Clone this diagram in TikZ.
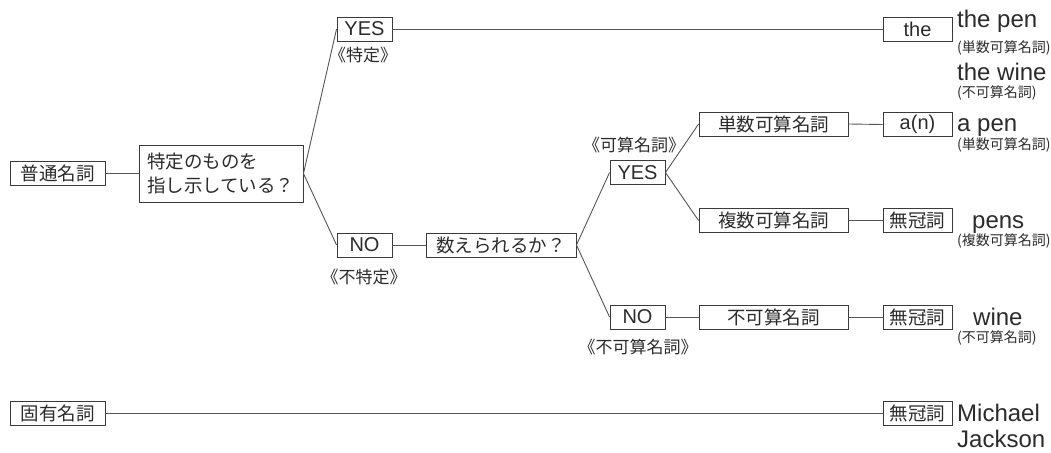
\documentclass[tikz,border=0pt]{standalone}
\usepackage{fontspec}
\setmainfont{Liberation Sans}
\newfontfamily\jpf{Noto Sans CJK JP}
\definecolor{txt}{HTML}{2B2B2B}
\definecolor{edge}{HTML}{3A3A3A}
\definecolor{wirec}{HTML}{555555}
\newcommand\fbj{\jpf\fontsize{18.5}{24}\selectfont}
\newcommand\fbl{\fontsize{20}{24}\selectfont}
\newcommand\fbig{\fontsize{24}{28}\selectfont}
\newcommand\fsm{\jpf\fontsize{14}{16}\selectfont}
\newcommand\fnote{\jpf\fontsize{17}{20}\selectfont}
\begin{document}
\begin{tikzpicture}[x=1pt,y=-1pt,
  box/.style={draw=edge,line width=0.9pt,inner sep=0pt,minimum height=24pt,text=txt},
  jbox/.style={box,font=\fbj},
  lbox/.style={box,font=\fbl},
  wire/.style={draw=wirec,line width=0.9pt},
  note/.style={text=txt,inner sep=0pt,font=\fnote},
  word/.style={text=txt,inner sep=0pt,anchor=base west,font=\fbig},
  small/.style={text=txt,inner sep=0pt,anchor=west,font=\fsm}]
\useasboundingbox (0,0) rectangle (1051,452);
% boxes
\node[jbox,minimum width=95pt] (futsu) at (57.5,173.5) {普通名詞};
\node[box,font=\fbj,minimum width=164pt,minimum height=57pt,text width=148pt,inner xsep=8pt,align=left] (tokutei) at (221,173.5) {特定のものを\\指し示している？};
\node[lbox,minimum width=55pt] (yes1) at (364.5,29) {YES};
\node[lbox,minimum width=55pt] (no1) at (364.5,245) {NO};
\node[jbox,minimum width=150pt] (kazoe) at (501,245) {数えられるか？};
\node[lbox,minimum width=55pt] (yes2) at (637.5,172.5) {YES};
\node[lbox,minimum width=55pt] (no2) at (637.5,317) {NO};
\node[jbox,minimum width=149pt] (tansu) at (773.5,124) {単数可算名詞};
\node[jbox,minimum width=149pt] (fukusu) at (773.5,220.5) {複数可算名詞};
\node[jbox,minimum width=149pt] (fuka) at (773.5,317) {不可算名詞};
\node[lbox,minimum width=69pt] (the) at (917.5,29) {the};
\node[lbox,minimum width=69pt] (an) at (917.5,124.5) {a(n)};
\node[jbox,minimum width=69pt] (mu1) at (917.5,220.5) {無冠詞};
\node[jbox,minimum width=69pt] (mu2) at (917.5,317) {無冠詞};
\node[jbox,minimum width=69pt] (mu3) at (917.5,413) {無冠詞};
\node[jbox,minimum width=95pt] (koyu) at (57.5,413) {固有名詞};
% annotations
\node[note] (n1) at (363,55) {《特定》};
\node[note] (n2) at (364,277) {《不特定》};
\node[note] (n3) at (634,145) {《可算名詞》};
\node[note] (n4) at (638,347) {《不可算名詞》};
% right-hand words
\node[word] (w1) at (957,28) {the pen};
\node[small] (s1) at (957,48) {(単数可算名詞)};
\node[word] (w2) at (957,80) {the wine};
\node[small] (s2) at (957,93) {(不可算名詞)};
\node[word] (w3) at (957,131) {a pen};
\node[small] (s3) at (957,145) {(単数可算名詞)};
\node[word] (w4) at (972,228) {pens};
\node[small] (s4) at (957,241) {(複数可算名詞)};
\node[word] (w5) at (973,325) {wine};
\node[small] (s5) at (957,338) {(不可算名詞)};
\node[word] (w6) at (957,421) {Michael};
\node[word] (w7) at (957,447) {Jackson};
% connectors
\draw[wire] (futsu.east) -- (tokutei.west);
\draw[wire] (tokutei.east) -- (yes1.west);
\draw[wire] (tokutei.east) -- (no1.west);
\draw[wire] (yes1.east) -- (the.west);
\draw[wire] (no1.east) -- (kazoe.west);
\draw[wire] (kazoe.east) -- (yes2.west);
\draw[wire] (kazoe.east) -- (no2.west);
\draw[wire] (yes2.east) -- (tansu.west);
\draw[wire] (yes2.east) -- (fukusu.west);
\draw[wire] (no2.east) -- (fuka.west);
\draw[wire] (tansu.east) -- (an.west);
\draw[wire] (fukusu.east) -- (mu1.west);
\draw[wire] (fuka.east) -- (mu2.west);
\draw[wire] (koyu.east) -- (mu3.west);
\end{tikzpicture}
\end{document}
